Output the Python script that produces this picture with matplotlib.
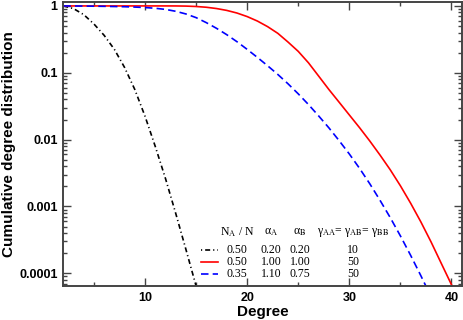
import matplotlib
matplotlib.use("Agg")
import matplotlib.pyplot as plt
from matplotlib.ticker import FixedLocator, MultipleLocator, LogLocator, FuncFormatter, NullFormatter

plt.rcParams['mathtext.fontset'] = 'stix'

# curves (degree, cumulative fraction)
black_deg = [2, 3, 4, 5, 6, 7, 8, 9, 10, 11, 12, 13, 14, 15, 15.5]
black_val = [1.0, 0.912, 0.741, 0.537, 0.363, 0.224, 0.120, 0.0562, 0.0224,
             0.00794, 0.00263, 7.94e-4, 2.29e-4, 6.46e-5, 3.0e-5]

red_deg = [2, 12, 13, 14, 15, 16, 17, 18, 19, 20, 21, 22, 23, 24, 25, 26, 27,
           28, 29, 30, 31, 32, 33, 34, 35, 36, 37, 38, 39, 40, 41]
red_val = [1.0, 1.0, 0.9993, 0.9943, 0.9808, 0.9554, 0.914, 0.857, 0.783, 0.693,
           0.594, 0.490, 0.389, 0.288, 0.209, 0.141, 0.0891, 0.0562, 0.0363, 0.0234,
           0.0151, 0.00955, 0.00589, 0.00355, 0.00204, 0.00112, 5.89e-4, 2.95e-4,
           1.41e-4, 6.76e-5, 3.2e-5]

blue_deg = [2, 4, 6, 8, 9, 10, 11, 12, 13, 14, 15, 16, 17, 18, 19, 20, 21, 22, 23,
            24, 25, 26, 27, 28, 29, 30, 31, 32, 33, 34, 35, 36, 37, 38]
blue_val = [1.0, 0.9954, 0.9863, 0.9727, 0.9616, 0.9462, 0.9226, 0.8872, 0.8318,
            0.7586, 0.6683, 0.5623, 0.4624, 0.3715, 0.2917, 0.2239, 0.1698, 0.1274,
            0.0944, 0.0684, 0.0484, 0.0335, 0.0226, 0.0150, 0.00966, 0.00610,
            0.00372, 0.00219, 0.00124, 6.84e-4, 3.63e-4, 1.86e-4, 9.23e-5, 4.47e-5]

# legend table
legend_header = [r'N$_{\mathrm{A}}$ / N', r'α$_{\mathrm{A}}$', r'α$_{\mathrm{B}}$',
                 r'γ$_{\mathrm{AA}}$= γ$_{\mathrm{AB}}$= γ$_{\mathrm{BB}}$']
legend_rows = [['0.50', '0.20', '0.20', '10'],
               ['0.50', '1.00', '1.00', '50'],
               ['0.35', '1.10', '0.75', '50']]

x_ticks = [10, 20, 30, 40]
y_ticks = [1e-4, 1e-3, 1e-2, 1e-1, 1]

black_style = dict(color='black', lw=1.2, linestyle=(0, (3, 1.8, 0.7, 1.8)))
red_style = dict(color='#ff0000', lw=1.2)
blue_style = dict(color='#0000ff', lw=1.2, linestyle=(0, (4.5, 2.5)))
styles = [dict(black_style, linestyle=(4.8, (3, 1.8, 0.7, 1.8))), red_style, blue_style]

fig = plt.figure(figsize=(4.63, 3.2), dpi=100)
ax = fig.add_axes([0.1367, 0.106, 0.8605, 0.888])

ax.plot(black_deg, black_val, **black_style)
ax.plot(red_deg, red_val, **red_style)
ax.plot(blue_deg, blue_val, **blue_style)

ax.set_yscale('log')
ax.set_xlim(2, 41)
ax.set_ylim(6.45e-5, 1.148)

ax.xaxis.set_major_locator(FixedLocator(x_ticks))
ax.xaxis.set_minor_locator(MultipleLocator(5))
ax.yaxis.set_major_locator(FixedLocator(y_ticks))
ax.yaxis.set_minor_locator(LogLocator(base=10, subs=range(2, 10), numticks=20))
ax.yaxis.set_major_formatter(FuncFormatter(lambda v, p: '%g' % v))
ax.yaxis.set_minor_formatter(NullFormatter())

edge = '#444444'
for s in ax.spines.values():
    s.set_color(edge)
    s.set_linewidth(1.4)
ax.tick_params(which='both', direction='in', top=True, right=True, color=edge, width=1.0)
ax.tick_params(which='major', length=6, pad=4)
ax.tick_params(which='minor', length=3)
for lab in ax.get_xticklabels() + ax.get_yticklabels():
    lab.set_fontfamily('Liberation Sans')
    lab.set_fontweight('bold')
    lab.set_fontsize(9)

ax.set_xlabel('Degree', family='Liberation Sans', weight='bold', fontsize=11, labelpad=1)
ax.set_ylabel('Cumulative degree distribution', family='Liberation Sans',
              weight='bold', fontsize=11, labelpad=2)

# legend drawn as a small table in axes coordinates
col_x = [0.436, 0.521, 0.594, 0.727]
head_y = 0.19
row_y = [0.127, 0.085, 0.044]
tf = dict(transform=ax.transAxes, family='Liberation Serif', fontsize=8.5,
          ha='center', va='center')
for cx, txt in zip(col_x, legend_header):
    ax.text(cx, head_y, txt, **tf)
for ry, row, st in zip(row_y, legend_rows, styles):
    ax.plot([0.346, 0.389], [ry, ry], transform=ax.transAxes, **st)
    for cx, txt in zip(col_x, row):
        ax.text(cx, ry, txt, **tf)

fig.savefig('out.png', dpi=100)
